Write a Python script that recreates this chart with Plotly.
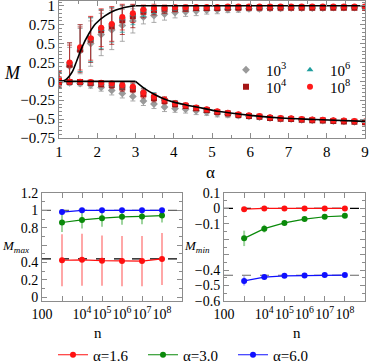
import plotly.graph_objects as go

# ---------------- data: top panel ----------------
alpha = [1.000, 1.276, 1.552, 1.828, 2.103, 2.379, 2.655, 2.931, 3.207, 3.483,
         3.759, 4.034, 4.310, 4.586, 4.862, 5.138, 5.414, 5.690, 5.966, 6.241,
         6.517, 6.793, 7.069, 7.345, 7.621, 7.897, 8.172, 8.448, 8.724, 9.000]

max_1e3 = [0.01, 0.20, 0.40, 0.50, 0.62, 0.68, 0.74, 0.80, 0.85, 0.87, 0.89, 0.91, 0.92, 0.93, 0.94,
           0.945, 0.95, 0.955, 0.96, 0.96, 0.965, 0.965, 0.97, 0.97, 0.97, 0.97, 0.975, 0.975, 0.975, 0.975]
max_1e3_err = [0.10, 0.25, 0.30, 0.30, 0.28, 0.26, 0.21, 0.16, 0.09, 0.09, 0.08, 0.07, 0.06, 0.06, 0.05,
               0.05, 0.04, 0.04, 0.03, 0.03, 0.03, 0.03, 0.03, 0.03, 0.03, 0.03, 0.03, 0.03, 0.03, 0.03]
max_1e4 = [0.02, 0.22, 0.42, 0.55, 0.68, 0.73, 0.81, 0.86, 0.92, 0.94, 0.95, 0.96, 0.965, 0.97, 0.97,
           0.97, 0.975, 0.975, 0.975, 0.975, 0.975, 0.975, 0.975, 0.975, 0.975, 0.975, 0.975, 0.975, 0.975, 0.975]
max_1e4_err = [0.10, 0.26, 0.30, 0.30, 0.26, 0.24, 0.19, 0.15, 0.08, 0.06, 0.05, 0.04, 0.04, 0.03, 0.03,
               0.03, 0.03, 0.02, 0.02, 0.02, 0.02, 0.02, 0.02, 0.02, 0.02, 0.02, 0.02, 0.02, 0.02, 0.02]
max_1e6 = [0.02, 0.24, 0.44, 0.55, 0.69, 0.75, 0.83, 0.88, 0.93, 0.95, 0.96, 0.97, 0.975, 0.98, 0.98,
           0.98, 0.98, 0.985, 0.985, 0.985, 0.985, 0.985, 0.985, 0.985, 0.985, 0.985, 0.985, 0.985, 0.985, 0.985]
max_1e6_err = [0.10, 0.27, 0.31, 0.29, 0.26, 0.23, 0.18, 0.13, 0.07, 0.05, 0.04, 0.03, 0.03, 0.02, 0.02,
               0.02, 0.02, 0.02, 0.02, 0.02, 0.02, 0.02, 0.02, 0.02, 0.02, 0.02, 0.02, 0.02, 0.02, 0.02]
max_1e8 = [0.03, 0.25, 0.45, 0.57, 0.71, 0.76, 0.85, 0.90, 0.95, 0.97, 0.97, 0.98, 0.98, 0.985, 0.985,
           0.985, 0.99, 0.99, 0.99, 0.99, 0.99, 0.99, 0.99, 0.99, 0.99, 0.99, 0.99, 0.99, 0.99, 0.99]
max_1e8_err = [0.10, 0.26, 0.30, 0.29, 0.25, 0.23, 0.17, 0.12, 0.06, 0.05, 0.04, 0.03, 0.03, 0.02, 0.02,
               0.02, 0.02, 0.02, 0.02, 0.02, 0.02, 0.02, 0.02, 0.02, 0.02, 0.02, 0.02, 0.02, 0.02, 0.02]

min_1e3 = [-0.02, -0.02, -0.03, -0.05, -0.08, -0.12, -0.16, -0.20, -0.26, -0.30, -0.34, -0.36, -0.37, -0.39, -0.41,
           -0.43, -0.44, -0.455, -0.465, -0.475, -0.485, -0.495, -0.50, -0.51, -0.515, -0.52, -0.525, -0.53, -0.535, -0.54]
min_1e3_err = [0.02, 0.02, 0.03, 0.04, 0.05, 0.06, 0.06, 0.06, 0.06, 0.06, 0.06, 0.05, 0.05, 0.05, 0.04,
               0.04, 0.04, 0.03, 0.03, 0.03, 0.03, 0.03, 0.03, 0.03, 0.03, 0.03, 0.03, 0.03, 0.03, 0.03]
min_1e4 = [-0.01, -0.01, -0.01, -0.02, -0.035, -0.05, -0.08, -0.10, -0.17, -0.22, -0.26, -0.30, -0.325, -0.355, -0.38,
           -0.405, -0.425, -0.445, -0.46, -0.47, -0.485, -0.495, -0.50, -0.51, -0.515, -0.52, -0.525, -0.53, -0.535, -0.54]
min_1e4_err = [0.02, 0.02, 0.02, 0.03, 0.04, 0.04, 0.05, 0.05, 0.05, 0.05, 0.04, 0.04, 0.03, 0.03, 0.03,
               0.03, 0.02, 0.02, 0.02, 0.02, 0.02, 0.02, 0.02, 0.02, 0.02, 0.02, 0.02, 0.02, 0.02, 0.02]
min_1e6 = [-0.01, -0.01, -0.01, -0.015, -0.025, -0.04, -0.06, -0.065, -0.13, -0.19, -0.24, -0.285, -0.315, -0.345, -0.37,
           -0.395, -0.415, -0.435, -0.45, -0.46, -0.475, -0.485, -0.49, -0.50, -0.505, -0.51, -0.515, -0.52, -0.525, -0.53]
min_1e6_err = [0.02, 0.02, 0.02, 0.02, 0.03, 0.03, 0.04, 0.04, 0.04, 0.04, 0.03, 0.03, 0.02, 0.02, 0.02,
               0.02, 0.02, 0.02, 0.02, 0.02, 0.02, 0.02, 0.02, 0.02, 0.02, 0.02, 0.02, 0.02, 0.02, 0.02]
min_1e8 = [-0.01, -0.005, -0.005, -0.01, -0.02, -0.03, -0.05, -0.07, -0.15, -0.20, -0.245, -0.29, -0.315, -0.345, -0.37,
           -0.395, -0.415, -0.435, -0.45, -0.46, -0.475, -0.485, -0.49, -0.50, -0.505, -0.51, -0.515, -0.52, -0.525, -0.53]
min_1e8_err = [0.02, 0.02, 0.02, 0.02, 0.03, 0.03, 0.04, 0.05, 0.05, 0.04, 0.04, 0.03, 0.03, 0.02, 0.02,
               0.02, 0.02, 0.02, 0.02, 0.02, 0.02, 0.02, 0.02, 0.02, 0.02, 0.02, 0.02, 0.02, 0.02, 0.02]

# theory curves
rise_alpha = [1.0, 1.17, 1.34, 1.47, 1.60, 1.78, 1.95, 2.21, 2.47, 2.74, 3.0]
rise_M = [0.0, 0.02, 0.12, 0.28, 0.45, 0.63, 0.76, 0.87, 0.94, 0.98, 1.0]
flat_alpha = [3.0, 9.0]
flat_top_M = [1.0, 1.0]
flat_low_alpha = [1.0, 3.0]
flat_low_M = [0.0, 0.0]
fall_alpha = [3.0, 3.25, 3.5, 3.75, 4.0, 4.3, 4.6, 5.2, 6.0, 6.8, 7.7, 9.0]
fall_M = [0.0, -0.10, -0.175, -0.235, -0.275, -0.31, -0.34, -0.40, -0.45, -0.485, -0.505, -0.53]

# ---------------- data: bottom panels ----------------
n_vals = [1e3, 1e4, 1e5, 1e6, 1e7, 1e8]
mmax_16 = [0.425, 0.43, 0.42, 0.415, 0.415, 0.44]
mmax_16_err = [0.30, 0.30, 0.29, 0.29, 0.29, 0.30]
mmax_30 = [0.86, 0.89, 0.91, 0.925, 0.93, 0.94]
mmax_30_err = [0.11, 0.10, 0.10, 0.09, 0.09, 0.08]
mmax_60 = [0.98, 1.0, 1.0, 1.0, 1.0, 1.0]
mmax_60_err = [0.02, 0.01, 0.01, 0.01, 0.01, 0.01]
mmin_16 = [-0.005, 0.0, 0.0, 0.0, 0.0, 0.0]
mmin_16_err = [0.005, 0.003, 0.002, 0.002, 0.002, 0.002]
mmin_30 = [-0.194, -0.131, -0.094, -0.069, -0.054, -0.048]
mmin_30_err = [0.05, 0.025, 0.012, 0.008, 0.006, 0.005]
mmin_60 = [-0.47, -0.445, -0.437, -0.434, -0.432, -0.432]
mmin_60_err = [0.03, 0.01, 0.006, 0.004, 0.003, 0.003]
ref_max = [1.0, 0.44]
ref_min = [0.0, -0.433]
ref_max_colors = ["#666666", "black"]
ref_min_colors = ["black", "#666666"]

n_ticks = [1e2, 1e3, 1e4, 1e5, 1e6, 1e7, 1e8, 1e9]
n_text_left = ["100", "", "10<sup>4</sup>", "10<sup>5</sup>", "10<sup>6</sup>", "10<sup>7</sup>", "10<sup>8</sup>", ""]
n_text_right = ["100", "", "10<sup>4</sup>", "10<sup>5</sup>", "10<sup>6</sup>", "10<sup>7</sup>", "10<sup>8</sup>", "10<sup>9</sup>"]

FONT = "Liberation Serif"
W, H = 374, 363

def px(x):
    return x / W

def py(y):
    return 1 - y / H

fig = go.Figure()

series = [
    ("10<sup>3</sup>", max_1e3, max_1e3_err, min_1e3, min_1e3_err, "#9a9a9a", "rgba(150,150,150,0.8)", "diamond", "legend"),
    ("10<sup>4</sup>", max_1e4, max_1e4_err, min_1e4, min_1e4_err, "#a51515", "rgba(165,20,20,0.75)", "square", "legend2"),
    ("10<sup>6</sup>", max_1e6, max_1e6_err, min_1e6, min_1e6_err, "#1f9e9e", "rgba(30,160,160,0.75)", "triangle-up", "legend3"),
    ("10<sup>8</sup>", max_1e8, max_1e8_err, min_1e8, min_1e8_err, "#ff1a1a", "rgba(230,20,20,0.7)", "circle", "legend4"),
]
for name, ymax, emax, ymin, emin, col, ecol, sym, leg in series:
    for i, (yy, ee) in enumerate([(ymax, emax), (ymin, emin)]):
        fig.add_trace(go.Scatter(
            x=alpha, y=yy, mode="markers", name=name, legendgroup=name,
            showlegend=(i == 0), legend=leg,
            marker=dict(color=col, symbol=sym, size=6),
            error_y=dict(type="data", array=ee, color=ecol, thickness=1, width=2.5),
            xaxis="x", yaxis="y"))

for xs, ys, shape in [(rise_alpha, rise_M, "spline"), (flat_alpha, flat_top_M, "linear"),
                      (flat_low_alpha, flat_low_M, "linear"), (fall_alpha, fall_M, "spline")]:
    fig.add_trace(go.Scatter(x=xs, y=ys, mode="lines", showlegend=False,
                             line=dict(color="black", width=1.6, shape=shape),
                             xaxis="x", yaxis="y", hoverinfo="skip"))

# bottom panels
bottom = [
    ("α=1.6", mmax_16, mmax_16_err, mmin_16, mmin_16_err, "#ff1010", "rgba(255,60,60,0.45)"),
    ("α=3.0", mmax_30, mmax_30_err, mmin_30, mmin_30_err, "#0a8a0a", "rgba(40,160,40,0.45)"),
    ("α=6.0", mmax_60, mmax_60_err, mmin_60, mmin_60_err, "#1010ff", "rgba(60,60,255,0.45)"),
]
for name, ya, ea, yb, eb, col, ecol in bottom:
    for i, (yy, ee, xa, ya_) in enumerate([(ya, ea, "x2", "y2"), (yb, eb, "x3", "y3")]):
        fig.add_trace(go.Scatter(
            x=n_vals, y=yy, mode="lines+markers", name=name, legendgroup=name,
            showlegend=(i == 0), legend="legend5",
            marker=dict(color=col, size=6),
            line=dict(color=col, width=1.2),
            error_y=dict(type="data", array=ee, color=ecol, thickness=2, width=0),
            xaxis=xa, yaxis=ya_))

shapes = []
for v, c in zip(ref_max, ref_max_colors):
    shapes.append(dict(type="line", xref="x2 domain", x0=0, x1=1, yref="y2", y0=v, y1=v,
                       line=dict(color=c, width=1.2, dash="dash"), layer="below"))
for v, c in zip(ref_min, ref_min_colors):
    shapes.append(dict(type="line", xref="x3 domain", x0=0, x1=1, yref="y3", y0=v, y1=v,
                       line=dict(color=c, width=1.2, dash="dash"), layer="below"))

frame = dict(showline=True, linecolor="#8c8c8c", linewidth=1, mirror="ticks",
             ticks="inside", tickcolor="#8c8c8c", ticklen=5, showgrid=False, zeroline=False,
             automargin=False, tickangle=0,
             tickfont=dict(family=FONT, size=15, color="black"))
small_tick = dict(family=FONT, size=14, color="black")

def top_legend(xm, ym):
    return dict(x=px(xm - 19), y=py(ym), xanchor="left", yanchor="middle",
                bgcolor="rgba(0,0,0,0)", font=dict(family=FONT, size=15), itemwidth=30)

def label(text, x, y, size, xanchor="center"):
    return dict(text=text, x=px(x), y=py(y), xref="paper", yref="paper", showarrow=False,
                xanchor=xanchor, yanchor="middle", font=dict(family=FONT, size=size))

fig.update_layout(
    width=W, height=H, margin=dict(l=0, r=0, t=0, b=0, autoexpand=False),
    plot_bgcolor="white", paper_bgcolor="white",
    font=dict(family=FONT, color="black"),
    shapes=shapes,
    xaxis=dict(frame, domain=[px(59), px(365)], range=[1, 9], anchor="y",
               tickvals=[1, 2, 3, 4, 5, 6, 7, 8, 9],
               minor=dict(ticks="inside", ticklen=3, tickcolor="#8c8c8c", dtick=0.5)),
    yaxis=dict(frame, domain=[py(138), py(0.5)], range=[-0.75, 1.07], anchor="x",
               tickvals=[-0.75, -0.5, -0.25, 0, 0.25, 0.5, 0.75, 1],
               ticktext=["−0.75", "−0.5", "−0.25", "0", "0.25", "0.5", "0.75", "1"],
               minor=dict(ticks="inside", ticklen=3, tickcolor="#8c8c8c", dtick=0.05)),
    xaxis2=dict(frame, type="log", domain=[px(42), px(182)], range=[2, 9], anchor="y2",
                tickvals=n_ticks, ticktext=n_text_left, tickfont=small_tick),
    yaxis2=dict(frame, domain=[py(301), py(193)], range=[-0.045, 1.2], anchor="x2",
                tickvals=[0, 0.2, 0.4, 0.6, 0.8, 1.0, 1.2],
                ticktext=["0", "0.2", "0.4", "", "0.8", "1", "1.2"],
                tickfont=small_tick,
                minor=dict(ticks="inside", ticklen=3, tickcolor="#8c8c8c", dtick=0.1)),
    xaxis3=dict(frame, type="log", domain=[px(224), px(365)], range=[2, 9], anchor="y3",
                tickvals=n_ticks, ticktext=n_text_right, tickfont=small_tick),
    yaxis3=dict(frame, domain=[py(301), py(193)], range=[-0.6, 0.1], anchor="x3",
                tickvals=[-0.6, -0.5, -0.4, -0.3, -0.2, -0.1, 0, 0.1],
                ticktext=["−0.6", "−0.5", "−0.4", "", "", "−0.1", "0", "0.1"],
                tickfont=small_tick,
                minor=dict(ticks="inside", ticklen=3, tickcolor="#8c8c8c", dtick=0.05)),
    legend=top_legend(245, 70),
    legend2=top_legend(245, 87),
    legend3=top_legend(309, 70),
    legend4=top_legend(309, 87),
    legend5=dict(orientation="h", x=px(53), xanchor="left", y=py(355), yanchor="middle",
                 bgcolor="rgba(0,0,0,0)", font=dict(family=FONT, size=15),
                 entrywidth=45, entrywidthmode="pixels"),
    annotations=[
        label("<i>M</i>", 2, 73, 18, "left"),
        label("α", 210, 172, 17),
        label("n", 98, 333, 15),
        label("n", 297, 333, 15),
        label("<i>M</i><sub><i>max</i></sub>", 0, 246, 13, "left"),
        label("<i>M</i><sub><i>min</i></sub>", 182, 246, 13, "left"),
    ],
)

fig.write_html("out.html", config={"displayModeBar": False},
               post_script="document.body.style.margin='0px';document.body.style.overflow='hidden';")
